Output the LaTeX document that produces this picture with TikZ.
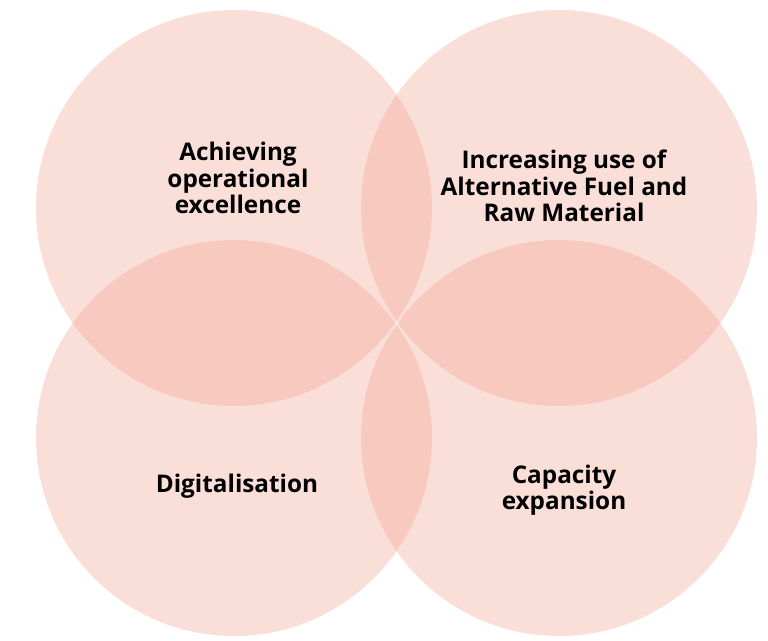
\documentclass[tikz,border=0pt]{standalone}
\usepackage{fontspec}
\setmainfont{Open Sans}
\definecolor{circfill}{RGB}{241,163,147}
\begin{document}
\begin{tikzpicture}[x=1pt,y=-1pt,
  circ/.style={fill=circfill,fill opacity=0.36,draw=none},
  lbl/.style={font=\fontsize{24.3}{26.5}\selectfont\bfseries,align=center,text=black}]
\useasboundingbox (0,0) rectangle (768,640);
\fill[circ] (234,208) circle[radius=198];
\fill[circ] (559,208) circle[radius=198];
\fill[circ] (234,438) circle[radius=198];
\fill[circ] (559,438) circle[radius=198];
\node[lbl] (a) at (238,178) {Achieving\\operational\\excellence};
\node[lbl] (b) at (564,186) {Increasing use of\\Alternative Fuel and\\Raw Material};
\node[lbl] (c) at (237,486) {Digitalisation};
\node[lbl] (d) at (564,490) {Capacity\\expansion};
\end{tikzpicture}
\end{document}
